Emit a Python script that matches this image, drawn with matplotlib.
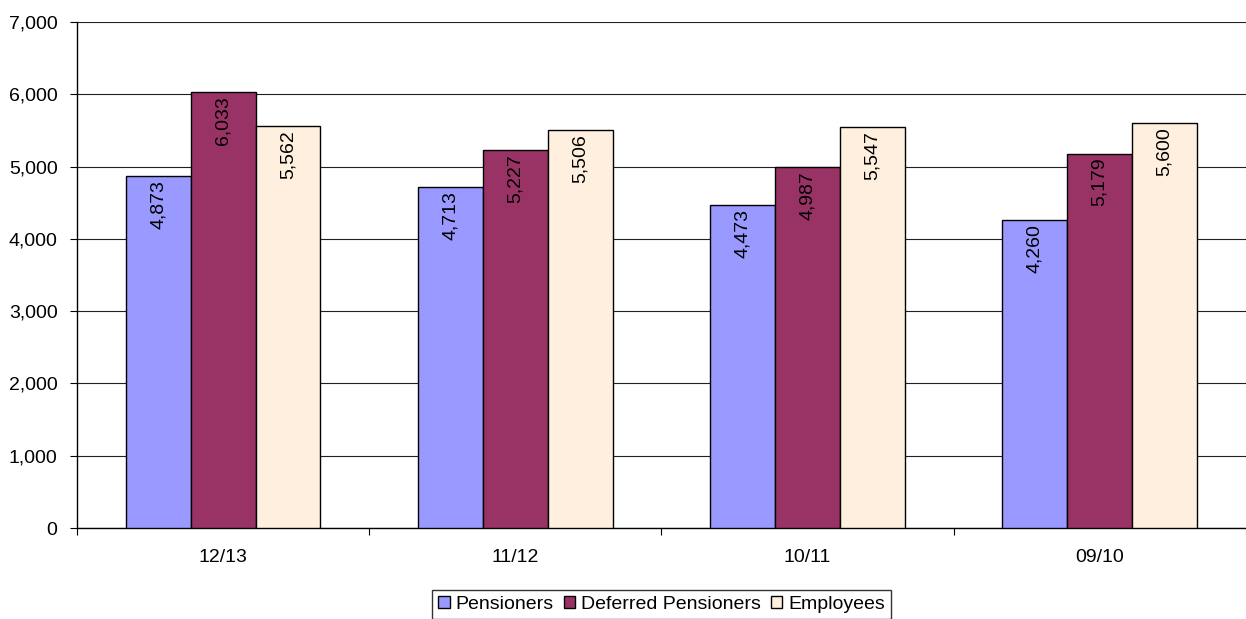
import numpy as np
import matplotlib.pyplot as plt
from matplotlib.ticker import FuncFormatter

plt.rcParams['font.family'] = ['Liberation Sans', 'DejaVu Sans']

# Chart data
years = ["12/13", "11/12", "10/11", "09/10"]
pensioners = [4873, 4713, 4473, 4260]
deferred = [6033, 5227, 4987, 5179]
employees = [5562, 5506, 5547, 5600]

series = [
    ("Pensioners", pensioners, "#9999FF"),
    ("Deferred Pensioners", deferred, "#993366"),
    ("Employees", employees, "#FFEFDF"),
]

fig = plt.figure(figsize=(12.46, 6.19), dpi=100)
ax = fig.add_axes([0.0618, 0.147, 0.938, 0.8175])

x = np.arange(len(years))
width = 0.222

for i, (name, vals, color) in enumerate(series):
    pos = x + (i - 1) * width
    bars = ax.bar(pos, vals, width, color=color, edgecolor="black",
                  linewidth=1.0, label=name, zorder=3)
    for b, v in zip(bars, vals):
        ax.annotate(f"{v:,}", (b.get_x() + b.get_width() / 2, v),
                    xytext=(0, -3), textcoords="offset points",
                    rotation=90, ha="center", va="top", fontsize=14,
                    zorder=4)

ax.set_xlim(-0.5, len(years) - 0.5)
ax.set_ylim(0, 7000)
ax.set_yticks(range(0, 7001, 1000))
ax.yaxis.set_major_formatter(FuncFormatter(lambda v, p: f"{int(v):,}"))
ax.grid(axis="y", color="#202020", linewidth=0.8, zorder=0)

ax.set_xticks(x)
ax.set_xticklabels(years)
ax.set_xticks(np.arange(-0.5, len(years) + 0.5, 1), minor=True)
ax.tick_params(axis="x", which="major", length=0, pad=15, labelsize=14)
ax.tick_params(axis="x", which="minor", length=5, direction="out", width=0.8)
ax.tick_params(axis="y", length=5, width=0.8, labelsize=14, pad=9)

for s in ["top", "right"]:
    ax.spines[s].set_visible(False)
ax.spines["left"].set_linewidth(1.0)
ax.spines["bottom"].set_linewidth(1.0)

leg = fig.legend(loc="upper center", bbox_to_anchor=(0.531, 29 / 619), ncol=3,
                 fontsize=14, frameon=True, fancybox=False, edgecolor="black",
                 handlelength=0.6, handleheight=0.6, handletextpad=0.3,
                 columnspacing=0.5, borderpad=0.3, borderaxespad=0.0)
leg.get_frame().set_linewidth(1.0)

fig.savefig("out.png", dpi=100)
